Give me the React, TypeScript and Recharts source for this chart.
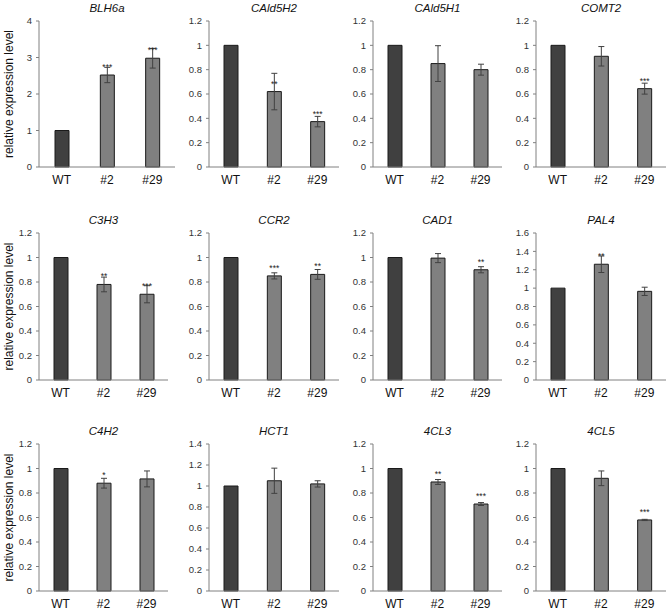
import { BarChart, Bar, XAxis, YAxis, ErrorBar, Cell, LabelList } from 'recharts'

// genes, one panel each (read left→right, top→bottom)
const genes = ['BLH6a', 'CAld5H2', 'CAld5H1', 'COMT2', 'C3H3', 'CCR2', 'CAD1', 'PAL4', 'C4H2', 'HCT1', '4CL3', '4CL5']
const lines = ['WT', '#2', '#29']

const wtMean = [1, 1, 1, 1, 1, 1, 1, 1, 1, 1, 1, 1]
const l2Mean = [2.52, 0.62, 0.85, 0.91, 0.78, 0.85, 0.995, 1.26, 0.88, 1.05, 0.89, 0.92]
const l29Mean = [2.98, 0.373, 0.80, 0.644, 0.70, 0.862, 0.90, 0.965, 0.915, 1.02, 0.71, 0.58]
const l2Err = [0.21, 0.15, 0.147, 0.08, 0.06, 0.025, 0.037, 0.09, 0.04, 0.12, 0.02, 0.06]
const l29Err = [0.27, 0.043, 0.045, 0.045, 0.07, 0.04, 0.025, 0.045, 0.065, 0.03, 0.012, 0.005]
const l2Sig = ['***', '**', '', '', '**', '***', '', '**', '*', '', '**', '']
const l29Sig = ['***', '***', '', '***', '***', '**', '**', '', '', '', '***', '***']
const yMax = [4, 1.2, 1.2, 1.2, 1.2, 1.2, 1.2, 1.6, 1.2, 1.4, 1.2, 1.2]
const yStep = [1, 0.2, 0.2, 0.2, 0.2, 0.2, 0.2, 0.2, 0.2, 0.2, 0.2, 0.2]

// plot-area layout in page pixels
const PLOT_LEFT = [39, 209, 373, 536]
const PLOT_RIGHT_TOP = [175, 339, 502, 666]
const PLOT_RIGHT = [168, 339, 502, 666]
const PLOT_TOP = [21, 233, 444]
const PLOT_BOTTOM = [167, 380, 591]

const FONT = '"Liberation Sans", Arial, sans-serif'
const MT = 9
const MR = 4
const MB = 26

function Stars(props: any) {
  const { x, y, width, value } = props
  if (!value) return null
  return (
    <text x={x + width / 2} y={y - 5} textAnchor="middle" fontSize={8.5} fill="#222" fontFamily={FONT}>
      {value}
    </text>
  )
}

function Panel({ idx }: { idx: number }) {
  const row = Math.floor(idx / 4)
  const col = idx % 4
  const left = PLOT_LEFT[col]
  const right = row === 0 ? PLOT_RIGHT_TOP[col] : PLOT_RIGHT[col]
  const top = PLOT_TOP[row]
  const bottom = PLOT_BOTTOM[row]
  const plotW = right - left
  const plotH = bottom - top
  const axisW = col === 0 ? left : 36
  const width = axisW + plotW + MR
  const height = MT + plotH + MB

  const data = lines.map((name, i) => ({
    name,
    value: [wtMean, l2Mean, l29Mean][i][idx],
    err: [0, l2Err[idx], l29Err[idx]][i],
    sig: ['', l2Sig[idx], l29Sig[idx]][i],
  }))
  const n = Math.round(yMax[idx] / yStep[idx])
  const ticks = Array.from({ length: n + 1 }, (_, i) => Number((i * yStep[idx]).toFixed(1)))

  return (
    <>
      <div
        style={{
          position: 'absolute', left, top: top - 20, width: plotW, height: 14,
          lineHeight: '14px', textAlign: 'center', fontStyle: 'italic',
          fontSize: 11.5, fontFamily: FONT, color: '#111',
        }}
      >
        {genes[idx]}
      </div>
      <div style={{ position: 'absolute', left: left - axisW, top: top - MT }}>
        <BarChart width={width} height={height} data={data} margin={{ top: MT, right: MR, left: 0, bottom: 0 }} barSize={14}>
          <XAxis
            dataKey="name"
            height={MB}
            tickLine={false}
            axisLine={{ stroke: '#808080' }}
            tick={{ fontSize: 12, fill: '#111', fontFamily: FONT }}
          />
          <XAxis xAxisId="top" orientation="top" dataKey="name" height={0} tick={false} tickLine={false} axisLine={{ stroke: '#222' }} />
          <YAxis
            width={axisW}
            domain={[0, yMax[idx]]}
            ticks={ticks}
            interval={0}
            tickSize={3}
            tickMargin={4}
            tickLine={{ stroke: '#808080' }}
            axisLine={{ stroke: '#808080' }}
            tick={{ fontSize: 9.5, fill: '#333', fontFamily: FONT }}
            label={
              col === 0
                ? {
                    content: () => (
                      <text
                        x={9}
                        y={MT + plotH / 2}
                        transform={`rotate(-90, 9, ${MT + plotH / 2})`}
                        textAnchor="middle"
                        dominantBaseline="central"
                        fontSize={12}
                        fill="#111"
                        fontFamily={FONT}
                      >
                        relative expression level
                      </text>
                    ),
                  }
                : undefined
            }
          />
          <YAxis yAxisId="right" orientation="right" width={0} tick={false} tickLine={false} axisLine={{ stroke: '#222' }} />
          <Bar dataKey="value" stroke="#1a1a1a" strokeWidth={1} isAnimationActive={false}>
            {data.map((d, i) => (
              <Cell key={d.name} fill={i === 0 ? '#404040' : '#808080'} />
            ))}
            <ErrorBar dataKey="err" width={3} stroke="#404040" strokeWidth={1} direction="y" />
            <LabelList dataKey="sig" content={Stars} />
          </Bar>
        </BarChart>
      </div>
    </>
  )
}

export default function App() {
  return (
    <div style={{ position: 'absolute', left: 0, top: 0, width: 669, height: 611, background: '#fff' }}>
      {genes.map((g, i) => (
        <Panel key={g} idx={i} />
      ))}
    </div>
  )
}
